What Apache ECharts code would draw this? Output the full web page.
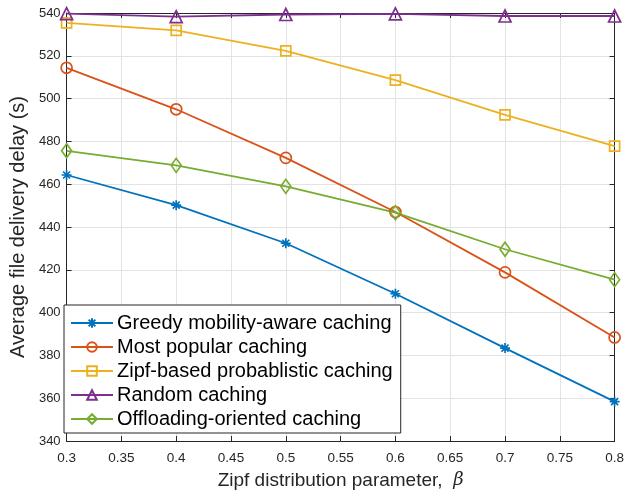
<!DOCTYPE html>
<html>
<head>
<meta charset="utf-8">
<script src="https://cdn.jsdelivr.net/npm/echarts@6/dist/echarts.min.js"></script>
<style>
  html, body { margin: 0; padding: 0; background: #fff; }
  #chart { width: 627px; height: 495px; }
</style>
</head>
<body>
<div id="chart"></div>
<script>
// zipf parameter values
const betas = [0.3, 0.4, 0.5, 0.6, 0.7, 0.8];

const greedy = [464.3, 450.2, 432.4, 408.8, 383.4, 358.4];
const mostPopular = [514.4, 495.0, 472.3, 447.0, 418.8, 388.4];
const zipfProb = [535.4, 531.9, 522.3, 508.6, 492.4, 477.8];
const randomCache = [539.7, 538.3, 539.3, 539.6, 538.6, 538.6];
const offloading = [475.6, 468.8, 459.0, 446.7, 429.6, 415.4];

const seriesNames = [
  'Greedy mobility-aware caching',
  'Most popular caching',
  'Zipf-based probablistic caching',
  'Random caching',
  'Offloading-oriented caching'
];

const colors = ['#0072BD', '#D95319', '#EDB120', '#7E2F8E', '#77AC30'];
const asterisk = 'path://M0,5L10,5M5,0L5,10M1.5,1.5L8.5,8.5M1.5,8.5L8.5,1.5';
const symbols = [asterisk, 'circle', 'rect', 'triangle', 'diamond'];
const sizes = [10, 11, 10, 12, [10, 14]];
const allData = [greedy, mostPopular, zipfProb, randomCache, offloading];

const axisColor = '#262626';
const gridColor = '#e3e3e3';
const font = 'Liberation Sans';

function makeSeries(i) {
  return {
    name: seriesNames[i],
    type: 'line',
    data: betas.map((b, k) => [b, allData[i][k]]),
    symbol: symbols[i],
    symbolSize: sizes[i],
    showAllSymbol: true,
    clip: false,
    lineStyle: { color: colors[i], width: 1.8 },
    itemStyle: { color: 'rgba(255,255,255,0)', borderColor: colors[i], borderWidth: 1.7 },
    emphasis: { disabled: true },
    z: 3
  };
}

const chart = echarts.init(document.getElementById('chart'), null, { renderer: 'canvas' });

const option = {
  animation: false,
  color: colors,
  grid: { left: 60, right: 10, top: 13, bottom: 52 },
  legend: {
    orient: 'vertical',
    left: 64,
    top: 305,
    padding: [8, 8, 4, 6],
    itemGap: 4,
    itemWidth: 42,
    itemHeight: 12,
    backgroundColor: '#fff',
    borderColor: axisColor,
    borderWidth: 1,
    borderRadius: 0,
    textStyle: { fontFamily: font, fontSize: 20, color: '#000', padding: [0, 0, 0, -1] },
    data: seriesNames
  },
  xAxis: [{
    type: 'value',
    min: 0.3, max: 0.8, interval: 0.05,
    name: '{a|Zipf distribution parameter,  }{b|β}',
    nameLocation: 'middle',
    nameGap: 30,
    nameTextStyle: {
      rich: {
        a: { fontFamily: font, fontSize: 19, color: axisColor },
        b: { fontFamily: 'DejaVu Serif', fontStyle: 'italic', fontSize: 18, color: axisColor }
      }
    },
    axisLine: { show: true, lineStyle: { color: axisColor, width: 1 } },
    axisTick: { show: true, inside: true, length: 5, lineStyle: { color: axisColor } },
    axisLabel: {
      fontFamily: font, fontSize: 13.5, color: axisColor, margin: 10,
      formatter: v => String(+v.toFixed(2))
    },
    splitLine: { show: true, lineStyle: { color: gridColor, width: 1 } }
  }, {
    type: 'value', position: 'top',
    min: 0.3, max: 0.8, interval: 0.05,
    axisLine: { show: true, onZero: false, lineStyle: { color: axisColor, width: 1 } },
    axisTick: { show: true, inside: true, length: 5, lineStyle: { color: axisColor } },
    axisLabel: { show: false },
    splitLine: { show: false }
  }],
  yAxis: [{
    type: 'value',
    min: 340, max: 540, interval: 20,
    name: 'Average file delivery delay (s)',
    nameLocation: 'middle',
    nameGap: 38,
    nameTextStyle: { fontFamily: font, fontSize: 20, color: axisColor },
    axisLine: { show: true, lineStyle: { color: axisColor, width: 1 } },
    axisTick: { show: true, inside: true, length: 5, lineStyle: { color: axisColor } },
    axisLabel: { fontFamily: font, fontSize: 13, color: axisColor, margin: 6 },
    splitLine: { show: true, lineStyle: { color: gridColor, width: 1 } }
  }, {
    type: 'value', position: 'right',
    min: 340, max: 540, interval: 20,
    axisLine: { show: true, onZero: false, lineStyle: { color: axisColor, width: 1 } },
    axisTick: { show: true, inside: true, length: 5, lineStyle: { color: axisColor } },
    axisLabel: { show: false },
    splitLine: { show: false }
  }],
  series: seriesNames.map((n, i) => makeSeries(i))
};

chart.setOption(option);
</script>
</body>
</html>
